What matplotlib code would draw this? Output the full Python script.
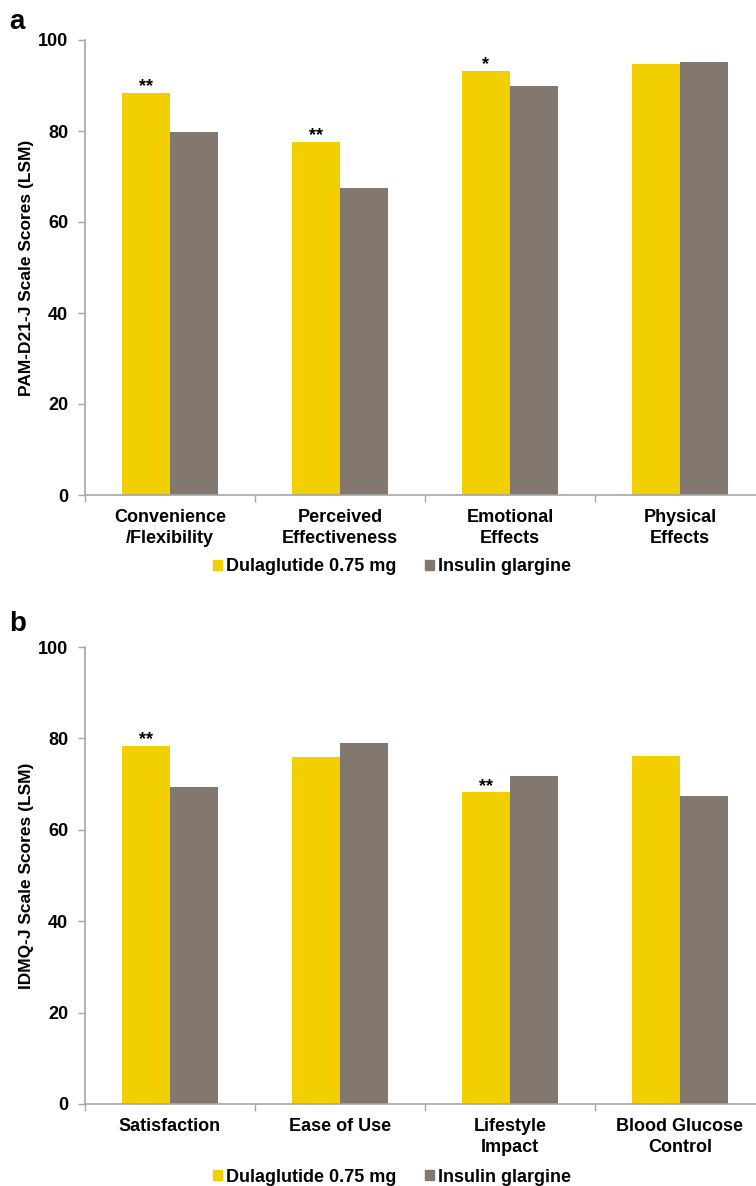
import matplotlib
matplotlib.use('Agg')
import numpy as np
from matplotlib import pyplot as plt
from matplotlib.patches import Patch

# panel a: PAM-D21-J
cats_a = ['Convenience\n/Flexibility', 'Perceived\nEffectiveness', 'Emotional\nEffects', 'Physical\nEffects']
dula_a = [88.4, 77.6, 93.2, 94.7]
glar_a = [79.8, 67.5, 89.8, 95.1]
stars_a = ['**', '**', '*', '']

# panel b: IDMQ-J
cats_b = ['Satisfaction', 'Ease of Use', 'Lifestyle\nImpact', 'Blood Glucose\nControl']
dula_b = [78.4, 75.9, 68.2, 76.1]
glar_b = [69.3, 79.1, 71.8, 67.4]
stars_b = ['**', '', '**', '']

yticks = [0, 20, 40, 60, 80, 100]

YELLOW = '#F2D000'
GRAY = '#827870'
AXIS = '#A6A6A6'
plt.rcParams['font.family'] = ['Liberation Sans', 'DejaVu Sans']

W, H = 756, 1186
fig = plt.figure(figsize=(W / 100, H / 100), dpi=100)


def panel(rect, cats, dula, glar, stars, ylabel, legend_y):
    ax = fig.add_axes(rect)
    x = np.arange(len(cats))
    bw = 0.285
    ax.bar(x - bw / 2, dula, bw, color=YELLOW, linewidth=0)
    ax.bar(x + bw / 2, glar, bw, color=GRAY, linewidth=0)
    for xi, v, s in zip(x, dula, stars):
        if s:
            ax.text(xi - bw / 2, v + 0.3, s, ha='center', va='baseline',
                    fontsize=13, fontweight='bold')
    ax.set_xlim(-0.5, len(cats) - 0.5)
    ax.set_ylim(0, 100)
    ax.set_yticks(yticks)
    ax.set_yticklabels([str(t) for t in yticks], fontsize=13, fontweight='bold')
    # ticks sit between the groups, labels in the middle
    ax.set_xticks(np.arange(len(cats) + 1) - 0.5)
    ax.set_xticklabels([])
    ax.set_xticks(x, minor=True)
    ax.set_xticklabels(cats, minor=True, fontsize=13, fontweight='bold',
                       linespacing=1.32)
    ax.tick_params(axis='x', which='minor', length=0, pad=10)
    ax.tick_params(axis='x', which='major', length=5, color=AXIS, width=1)
    ax.tick_params(axis='y', length=5, color=AXIS, width=1, pad=7)
    for sp in ['top', 'right']:
        ax.spines[sp].set_visible(False)
    for sp in ['left', 'bottom']:
        ax.spines[sp].set_color(AXIS)
        ax.spines[sp].set_linewidth(1.2)
    ax.set_ylabel(ylabel, fontsize=12.5, fontweight='bold', labelpad=3)
    handles = [Patch(color=YELLOW, label='Dulaglutide 0.75 mg'),
               Patch(color=GRAY, label='Insulin glargine')]
    fig.legend(handles=handles, loc='center', bbox_to_anchor=(392 / W, 1 - legend_y / H),
               ncol=2, frameon=False, handlelength=0.5, handleheight=0.5,
               handletextpad=0.2, columnspacing=1.6, borderpad=0, borderaxespad=0,
               prop={'weight': 'bold', 'size': 13})
    return ax


# axes run past the right edge of the figure, as in the original
x0 = 85 / W
wd = 680 / W
panel([x0, 1 - 495 / H, wd, 455 / H], cats_a, dula_a, glar_a, stars_a,
      'PAM-D21-J Scale Scores (LSM)', 567)
panel([x0, 1 - 1104 / H, wd, 457 / H], cats_b, dula_b, glar_b, stars_b,
      'IDMQ-J Scale Scores (LSM)', 1177)

fig.text(9 / W, 1 - 22 / H, 'a', fontsize=20, fontweight='bold', va='center')
fig.text(9 / W, 1 - 624 / H, 'b', fontsize=20, fontweight='bold', va='center')

fig.savefig('out.png', dpi=100)
